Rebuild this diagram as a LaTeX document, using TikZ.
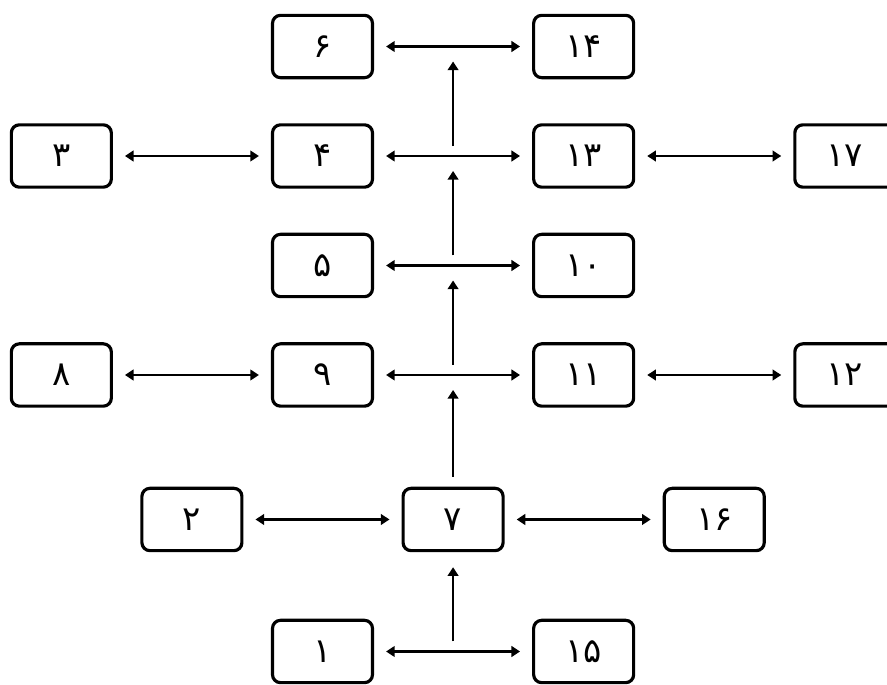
\documentclass[tikz,border=0pt]{standalone}
\usepackage{fontspec}
\newfontfamily\farsi[Script=Arabic]{DejaVu Sans}
\usetikzlibrary{positioning,calc,arrows.meta}

\begin{document}
\begin{tikzpicture}[node distance={1.32cm and 4.74cm}, line width=2.1pt,
    main/.style = {draw, line width=2.7pt, rounded corners=0.24cm, minimum width=3cm, minimum height=1.87cm, font=\farsi\fontsize{29}{32}\selectfont},
    pair/.style = {{Triangle[length=0.26cm,width=0.32cm]}-{Triangle[length=0.26cm,width=0.32cm]}, shorten <=0.36cm, shorten >=0.36cm},
    lift/.style = {-{Triangle[length=0.26cm,width=0.32cm]}, shorten <=0.3cm, shorten >=0.45cm}]
                  \useasboundingbox (-9.675,4.68) rectangle (16.935,-15.84);
                  \clip (-9.675,4.68) rectangle (16.935,-15.84);
                  \node[main] (4) {۴};
                  \node[main] (6) [above=of 4] {۶};
                  \node[main] (5) [below=of 4] {۵};
                  \node[main] (9) [below=of 5] {۹};
                  \node[main] (3) [left=of 4] {۳};
                  \node[main] (8) [left=of 9] {۸};
                  \node[main] (14) [right=of 6] {۱۴};
                  \node[main] (13) [right=of 4] {۱۳};
                  \node[main] (10) [right=of 5] {۱۰};
                  \node[main] (11) [right=of 9] {۱۱};
                  \node[main] (17) [right=of 13] {۱۷};
                  \node[main] (12) [right=of 11] {۱۲};
                  \coordinate (c4) at ($(9.south)!0.5!(11.south)$);
                  \node[main] (7) [below=2.37cm of c4] {۷};
                  \node[main] (2) [left=of 7] {۲};
                  \node[main] (16) [right=of 7] {۱۶};
                  \node[main] (1) [below=6.33cm of 9] {۱};
                  \node[main] (15) [right=of 1] {۱۵};
                  \draw[pair] (6) to (14);
                  \draw[pair] (3) to (4);
                  \draw[pair] (4) to (13);
                  \draw[pair] (13) to (17);
                  \draw[pair] (5) to (10);
                  \draw[pair] (8) to (9);
                  \draw[pair] (9) to (11);
                  \draw[pair] (11) to (12);
                  \draw[pair] (2) to (7);
                  \draw[pair] (7) to (16);
                  \draw[pair] (1) to (15);
                  \coordinate (m1) at ($(6.east)!0.5!(14.west)$);
                  \coordinate (m2) at ($(4.east)!0.5!(13.west)$);
                  \coordinate (m3) at ($(5.east)!0.5!(10.west)$);
                  \coordinate (m4) at ($(9.east)!0.5!(11.west)$);
                  \coordinate (m6) at ($(1.east)!0.5!(15.west)$);
                  \draw[lift] (m6) to (7);
                  \draw[lift] (7) to (m4);
                  \draw[lift] (m4) to (m3);
                  \draw[lift] (m3) to (m2);
                  \draw[lift] (m2) to (m1);
              \end{tikzpicture}
\end{document}
